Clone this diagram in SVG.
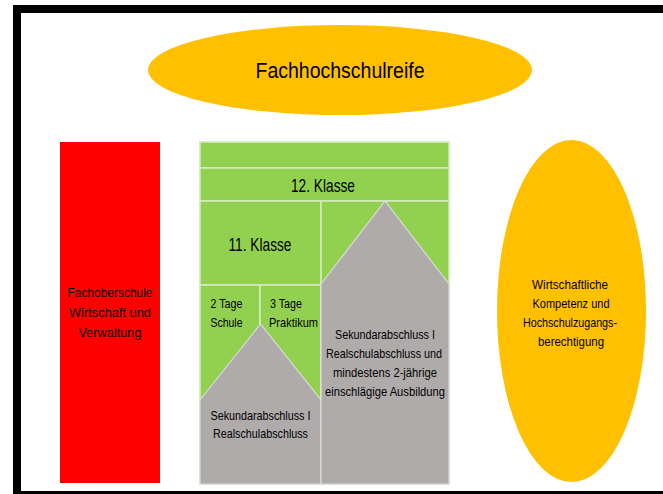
<svg xmlns="http://www.w3.org/2000/svg" width="663" height="494" viewBox="0 0 663 494">
<style>
text{font-family:"Liberation Sans",Arial,sans-serif;fill:#000;}
.g{fill:#92D050;stroke:#d6ebc2;stroke-width:1.5;}
.gr{fill:#AFABAB;stroke:#dcdcdc;stroke-width:1.2;}
.s{font-size:13.5px;}
.m{font-size:18px;}
.c{text-anchor:middle;}
</style>
<rect x="0" y="0" width="663" height="494" fill="#fff"/>
<rect id="frame" x="17" y="9" width="660" height="486" fill="none" stroke="#000" stroke-width="8"/>

<g id="fachhochschulreife">
<ellipse cx="340" cy="70" rx="192" ry="45" fill="#FFC000"/>
<text class="c" x="340" y="78" font-size="22.5" textLength="169" lengthAdjust="spacingAndGlyphs">Fachhochschulreife</text>
</g>

<g id="fachoberschule">
<rect x="60" y="142" width="100" height="341" fill="#FF0000"/>
<text class="s c" x="110" y="297" textLength="85" lengthAdjust="spacingAndGlyphs">Fachoberschule</text>
<text class="s c" x="110" y="317" textLength="82" lengthAdjust="spacingAndGlyphs">Wirtschaft und</text>
<text class="s c" x="110" y="337" textLength="63" lengthAdjust="spacingAndGlyphs">Verwaltung</text>
</g>

<g id="block">
<rect class="g" x="200" y="142" width="249" height="342"/>
<g id="row-top"><rect class="g" x="200" y="142" width="249" height="26"/></g>
<g id="klasse12">
<rect class="g" x="200" y="168" width="249" height="33"/>
<text class="m c" x="323" y="192" textLength="64" lengthAdjust="spacingAndGlyphs">12. Klasse</text>
</g>
<g id="klasse11">
<rect class="g" x="200" y="201" width="121" height="84"/>
<text class="m c" x="260" y="251" textLength="63" lengthAdjust="spacingAndGlyphs">11. Klasse</text>
</g>
<g id="schule">
<rect class="g" x="200" y="285" width="60" height="199"/>
<text class="s" x="210.5" y="308" textLength="32" lengthAdjust="spacingAndGlyphs">2 Tage</text>
<text class="s" x="210.5" y="327" textLength="32" lengthAdjust="spacingAndGlyphs">Schule</text>
</g>
<g id="praktikum">
<rect class="g" x="260" y="285" width="61" height="199"/>
<text class="s" x="270" y="308" textLength="32" lengthAdjust="spacingAndGlyphs">3 Tage</text>
<text class="s" x="269" y="327" textLength="49" lengthAdjust="spacingAndGlyphs">Praktikum</text>
</g>
<g id="right-green"><rect class="g" x="321" y="201" width="128" height="283"/></g>
<g id="sek1">
<polygon class="gr" points="200,400 260.5,324 321,400 321,484 200,484"/>
<text class="s c" x="260.5" y="420" textLength="100" lengthAdjust="spacingAndGlyphs">Sekundarabschluss I</text>
<text class="s c" x="260.5" y="438" textLength="95" lengthAdjust="spacingAndGlyphs">Realschulabschluss</text>
</g>
<g id="sek1-ausbildung">
<polygon class="gr" points="321,284 385,201 449,284 449,484 321,484"/>
<text class="s c" x="385" y="339" textLength="100" lengthAdjust="spacingAndGlyphs">Sekundarabschluss I</text>
<text class="s c" x="384" y="358" textLength="116" lengthAdjust="spacingAndGlyphs">Realschulabschluss und</text>
<text class="s c" x="385" y="377" textLength="104" lengthAdjust="spacingAndGlyphs">mindestens 2-jährige</text>
<text class="s c" x="385" y="396" textLength="120" lengthAdjust="spacingAndGlyphs">einschlägige Ausbildung</text>
</g>
</g>

<g id="kompetenz">
<ellipse cx="571.5" cy="311" rx="74.5" ry="171" fill="#FFC000"/>
<text class="s c" x="570" y="289" textLength="76" lengthAdjust="spacingAndGlyphs">Wirtschaftliche</text>
<text class="s c" x="571" y="308" textLength="77" lengthAdjust="spacingAndGlyphs">Kompetenz und</text>
<text class="s c" x="570" y="327" textLength="94" lengthAdjust="spacingAndGlyphs">Hochschulzugangs-</text>
<text class="s c" x="571" y="346" textLength="66" lengthAdjust="spacingAndGlyphs">berechtigung</text>
</g>
</svg>
